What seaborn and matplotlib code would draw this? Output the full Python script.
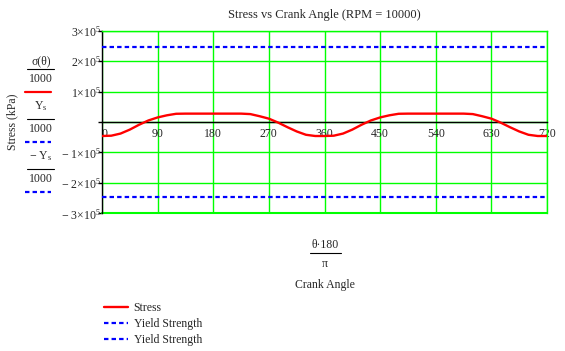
import numpy as np
import pandas as pd
import seaborn as sns
import matplotlib.pyplot as plt
from matplotlib.lines import Line2D

# crank angle (deg) and stress sigma/1000 (kPa)
angle = [0, 15, 30, 45, 60, 75, 90, 105, 120, 135, 150, 165, 180, 195, 210, 225,
         240, 255, 270, 285, 300, 315, 330, 345, 360,
         375, 390, 405, 420, 435, 450, 465, 480, 495, 510, 525, 540, 555, 570, 585,
         600, 615, 630, 645, 660, 675, 690, 705, 720]
stress = [-46000, -45000, -38000, -25000, -9000, 5000, 15000, 22000, 27000, 27500, 27500,
          27500, 27500, 27500, 27500, 27500, 26000, 19000, 11000, -2000, -17000, -31000,
          -42000, -46000, -46000,
          -45000, -38000, -25000, -9000, 5000, 15000, 22000, 27000, 27500, 27500,
          27500, 27500, 27500, 27500, 27500, 26000, 19000, 11000, -2000, -17000, -31000,
          -42000, -46000, -46000]
yield_x = [0, 720]
yield_strength = 248000  # Ys/1000 in kPa

x_ticks = [0, 90, 180, 270, 360, 450, 540, 630, 720]
y_ticks = [-300000, -200000, -100000, 0, 100000, 200000, 300000]
y_tick_labels = [r'$\mathregular{-\ 3{\times}10^{5}}$', r'$\mathregular{-\ 2{\times}10^{5}}$',
                 r'$\mathregular{-\ 1{\times}10^{5}}$', '',
                 r'$\mathregular{1{\times}10^{5}}$', r'$\mathregular{2{\times}10^{5}}$',
                 r'$\mathregular{3{\times}10^{5}}$']

sns.set_theme(style="white")
plt.rcParams['font.family'] = ['Liberation Serif', 'DejaVu Serif']
plt.rcParams['mathtext.fontset'] = 'custom'
plt.rcParams['mathtext.rm'] = 'Liberation Serif'
plt.rcParams['mathtext.it'] = 'Liberation Serif'

W, H = 565, 351
fig = plt.figure(figsize=(W / 100, H / 100), dpi=100)
ax = fig.add_axes([102 / W, 1 - 213.3 / H, 445 / W, 182.6 / H])

green = '#00ff00'
red = '#ff0000'
blue = '#0000ff'
dash = (0, (2.0, 1.4))

df = pd.DataFrame({'angle': angle, 'stress': stress})
sns.lineplot(data=df, x='angle', y='stress', ax=ax, color=red, lw=1.7,
             label='Stress', zorder=4)
sns.lineplot(x=yield_x, y=[yield_strength, yield_strength], ax=ax, color=blue,
             lw=1.6, linestyle=dash, label='Yield Strength', zorder=4)
sns.lineplot(x=yield_x, y=[-yield_strength, -yield_strength], ax=ax, color=blue,
             lw=1.6, linestyle=dash, label='Yield Strength', zorder=4)

ax.set_xlim(0, 720)
ax.set_ylim(-300000, 300000)
ax.set_xticks(x_ticks)
ax.set_yticks(y_ticks)
ax.set_yticklabels(y_tick_labels)
ax.grid(True, color=green, lw=1)
ax.set_axisbelow(True)
ax.set_xlabel('')
ax.set_ylabel('')

# axes: x axis through zero, y axis at left, green border elsewhere
ax.spines['bottom'].set_position(('data', 0))
ax.spines['bottom'].set_color('black')
ax.spines['left'].set_color('black')
for s in ['top', 'right']:
    ax.spines[s].set_color(green)
for s in ax.spines.values():
    s.set_linewidth(1)
ax.axhline(-300000, color=green, lw=1.5, clip_on=False, zorder=1)

ax.tick_params(axis='x', length=0, pad=4, labelsize=8.5)
ax.tick_params(axis='y', length=3, width=1, color='black', pad=-2, labelsize=8.5,
               left=True)
xl = ax.get_xticklabels()
xl[0].set_horizontalalignment('left')

ax.set_title('Stress vs Crank Angle (RPM = 10000)', fontsize=9, pad=9)

# left side: y axis label and Mathcad-style expressions
fig.text(12 / W, 1 - 122 / H, 'Stress (kPa)', rotation=90, ha='center', va='center',
         fontsize=8.5)
fs = 8.5
exprs = [('σ(θ)', 61, 69, 79, 92, red, '-'),
         (r'$\mathregular{Y_s}$', 106, 119, 129, 142, blue, dash),
         (r'$\mathregular{-\ Y_s}$', 156, 169, 179, 192, blue, dash)]
for num, yn, yb, yd, ys, col, ls in exprs:
    fig.text(41 / W, 1 - yn / H, num, ha='center', va='center', fontsize=fs)
    fig.add_artist(Line2D([27 / W, 54 / W], [1 - yb / H, 1 - yb / H], color='black', lw=0.8))
    fig.text(41 / W, 1 - yd / H, '1000', ha='center', va='center', fontsize=fs)
    fig.add_artist(Line2D([25 / W, 51 / W], [1 - ys / H, 1 - ys / H], color=col, lw=1.6,
                          linestyle=ls))

# x label expression
fig.text(325 / W, 1 - 245 / H, 'θ·180', ha='center', va='center', fontsize=fs)
fig.add_artist(Line2D([310 / W, 341 / W], [1 - 253 / H, 1 - 253 / H], color='black', lw=0.8))
fig.text(325 / W, 1 - 264 / H, 'π', ha='center', va='center', fontsize=fs)
fig.text(325 / W, 1 - 285 / H, 'Crank Angle', ha='center', va='center', fontsize=fs)

ax.get_legend().remove()
handles, labels = ax.get_legend_handles_labels()
fig.legend(handles, labels, loc='upper left', bbox_to_anchor=(104 / W, 1 - 302 / H),
           frameon=False, fontsize=fs, handlelength=2.0, handletextpad=0.5,
           labelspacing=0.35, borderaxespad=0, borderpad=0)

fig.savefig('out.png', dpi=100)
